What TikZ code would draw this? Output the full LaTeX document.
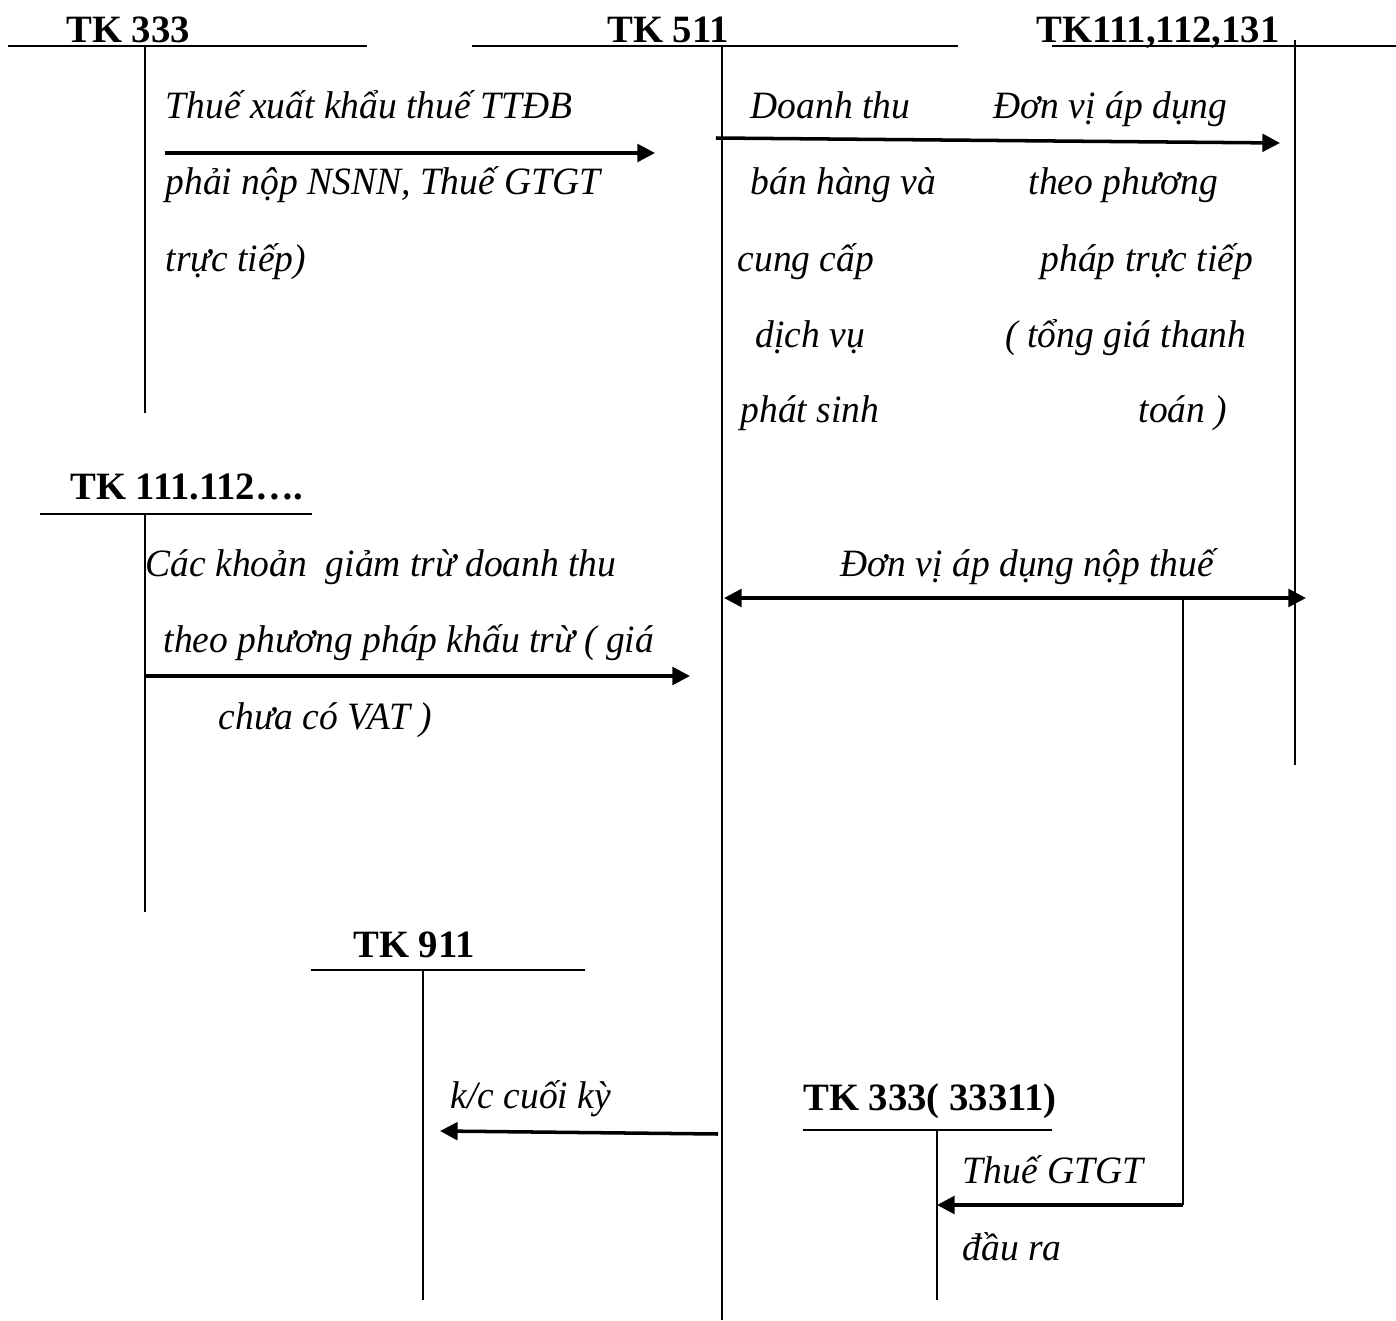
\documentclass[tikz,border=0pt]{standalone}
\usepackage{fontspec}
\setmainfont{Liberation Serif}[ItalicFeatures={FakeStretch=0.97}]
\usetikzlibrary{arrows.meta}

\begin{document}
\begin{tikzpicture}[x=0.01cm,y=-0.01cm,line cap=butt,>={Triangle[length=5pt,width=5pt]}]
\tikzset{title/.style={font=\fontsize{11}{13}\selectfont\bfseries,inner sep=0pt,anchor=base}, txt/.style={font=\fontsize{11}{13}\selectfont\itshape,inner sep=0pt,anchor=base west}, acct/.style={line width=0.6pt}, flow/.style={line width=1pt,->}}
\useasboundingbox (0,0) rectangle (1396,1321);

% T-accounts
\node[title] (t333) at (128,42) {TK 333};
\draw[acct] (8,46)--(367,46) (145,46)--(145,413);
\node[title] (t511) at (668,42) {TK 511};
\draw[acct] (472,46)--(958,46) (722,46)--(722,1320);
\node[title] (t111) at (1158,42) {TK111,112,131};
\draw[acct] (1052,46)--(1396,46) (1295,40)--(1295,765);
\node[title] (t111b) at (187,499) {TK 111.112….};
\draw[acct] (40,514)--(312,514) (145,514)--(145,912);
\node[title] (t911) at (414,957) {TK 911};
\draw[acct] (311,970)--(585,970) (423,970)--(423,1300);
\node[title] (t33311) at (930,1110) {TK 333( 33311)};
\draw[acct] (803,1130)--(1052,1130) (937,1130)--(937,1300);

% connectors
\coordinate (a1s) at (165,153);
\coordinate (a1e) at (655,153);
\coordinate (a2s) at (716,138);
\coordinate (a2e) at (1280,143);
\coordinate (a3s) at (145,676);
\coordinate (a3e) at (690,676);
\coordinate (a4l) at (724,598);
\coordinate (a4r) at (1306,598);
\coordinate (a4b) at (1183,598);
\coordinate (a5c) at (1183,1205);
\coordinate (a5e) at (937,1205);
\coordinate (a6s) at (718,1134);
\coordinate (a6e) at (440,1131);
\draw[flow] (a1s)--(a1e);
\draw[flow] (a2s)--(a2e);
\draw[flow] (a3s)--(a3e);
\draw[flow,<->] (a4l)--(a4r);
\draw[acct] (a4b)--(a5c);
\draw[flow] (a5c)--(a5e);
\draw[flow] (a6s)--(a6e);

% texts
\node[txt] (x1) at (165,118) {Thuế xuất khẩu thuế TTĐB};
\node[txt] (x2) at (165,194) {phải nộp NSNN, Thuế GTGT};
\node[txt] (x3) at (165,271) {trực tiếp)};
\node[txt] (d1) at (750,118) {Doanh thu};
\node[txt] (d2) at (750,194) {bán hàng và};
\node[txt] (d3) at (737,271) {cung cấp};
\node[txt] (d4) at (755,347) {dịch vụ};
\node[txt] (d5) at (740,422) {phát sinh};
\node[txt] (e1) at (993,118) {Đơn vị áp dụng};
\node[txt] (e2) at (1028,194) {theo phương};
\node[txt] (e3) at (1040,271) {pháp trực tiếp};
\node[txt] (e4) at (1005,347) {( tổng giá thanh};
\node[txt] (e5) at (1138,422) {toán )};
\node[txt] (g1) at (145,576) {Các khoản\ \ giảm trừ doanh thu};
\node[txt] (g2) at (163,652) {theo phương pháp khấu trừ ( giá};
\node[txt] (g3) at (218,729) {chưa có VAT )};
\node[txt] (n1) at (840,576) {Đơn vị áp dụng nộp thuế};
\node[txt] (k1) at (450,1108) {k/c cuối kỳ};
\node[txt] (v1) at (962,1183) {Thuế GTGT};
\node[txt] (v2) at (962,1260) {đầu ra};
\end{tikzpicture}
\end{document}
